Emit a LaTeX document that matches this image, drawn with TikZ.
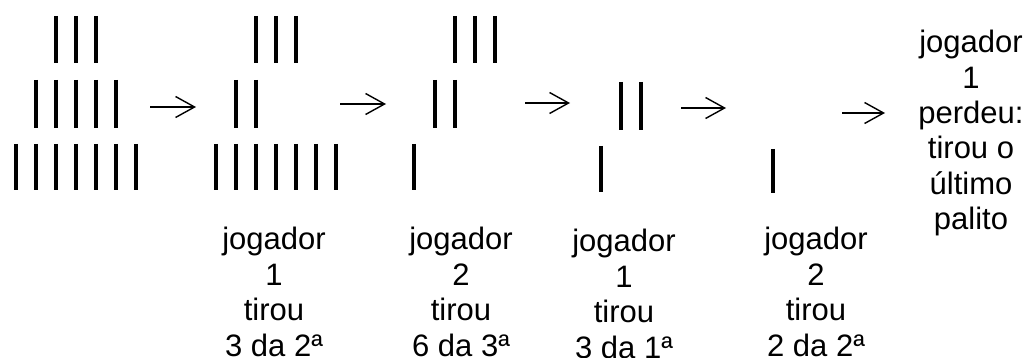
\documentclass[tikz,border=0pt]{standalone}
\usepackage{fontspec}
\setmainfont{Liberation Sans}
\usetikzlibrary{arrows.meta}

\tikzset{
  palito/.style={line width=3.6pt},
  seta/.style={line width=1.6pt, -{Straight Barb[length=19pt, width=21pt, line width=1.4pt]}},
  rotulo/.style={align=center, inner sep=0pt, anchor=base,
    font=\fontsize{31}{35.5}\selectfont},
}

\begin{document}
\begin{tikzpicture}[x=1pt, y=-1pt]
  \useasboundingbox (0, 0) rectangle (1031, 358);
  % starting position: 3, 5 and 7 sticks
  \foreach \x in {56, 76, 96} \draw[palito] (\x, 16) -- (\x, 63);
  \foreach \x in {36, 56, ..., 116} \draw[palito] (\x, 80) -- (\x, 128);
  \foreach \x in {16, 36, ..., 136} \draw[palito] (\x, 144) -- (\x, 190);
  % after move 1
  \foreach \x in {256, 276, 296} \draw[palito] (\x, 16) -- (\x, 63);
  \foreach \x in {236, 256} \draw[palito] (\x, 80) -- (\x, 128);
  \foreach \x in {216, 236, ..., 336} \draw[palito] (\x, 144) -- (\x, 190);
  % after move 2
  \foreach \x in {455, 475, 495} \draw[palito] (\x, 16) -- (\x, 63);
  \foreach \x in {435, 455} \draw[palito] (\x, 80) -- (\x, 128);
  \draw[palito] (414, 144) -- (414, 190);
  % after move 3
  \foreach \x in {621, 641} \draw[palito] (\x, 82) -- (\x, 130);
  \draw[palito] (601, 146) -- (601, 192);
  % after move 4
  \draw[palito] (773, 149) -- (773, 193);

  \coordinate (s1) at (150, 107);  \coordinate (t1) at (196, 107);
  \coordinate (s2) at (340, 104);  \coordinate (t2) at (386, 104);
  \coordinate (s3) at (525, 103);  \coordinate (t3) at (570, 103);
  \coordinate (s4) at (681, 108);  \coordinate (t4) at (726, 108);
  \coordinate (s5) at (842, 113);  \coordinate (t5) at (885, 113);
  \foreach \i in {1, ..., 5} \path[seta] (s\i) edge (t\i);

  % base anchor sits on the last line
  \node[rotulo] (j1) at (274, 356) {jogador\\1\\tirou\\3 da 2ª};
  \node[rotulo] (j2) at (461, 356) {jogador\\2\\tirou\\6 da 3ª};
  \node[rotulo] (j3) at (624, 358) {jogador\\1\\tirou\\3 da 1ª};
  \node[rotulo] (j4) at (816, 356) {jogador\\2\\tirou\\2 da 2ª};
  \node[rotulo] (fim) at (971, 230) {jogador\\1\\perdeu:\\tirou o\\último\\palito};
\end{tikzpicture}
\end{document}
